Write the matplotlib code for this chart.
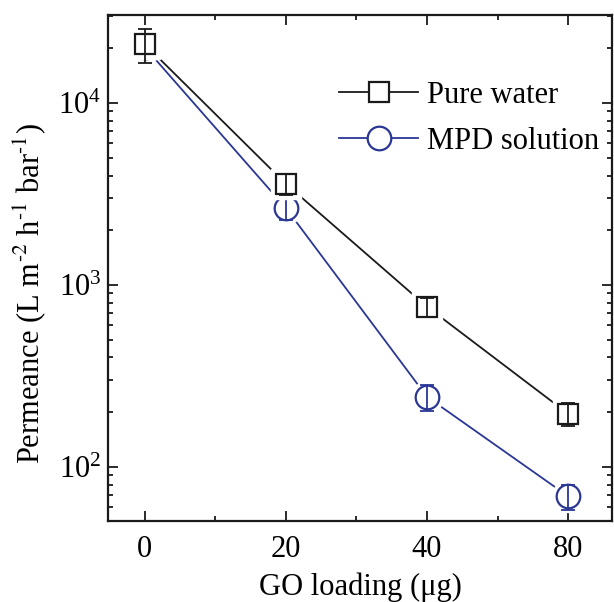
# GO loading vs permeance, log scale
# ==========================================================

import numpy as np
import matplotlib.pyplot as plt
from matplotlib.lines import Line2D
from matplotlib.ticker import MultipleLocator, LogLocator, NullFormatter

# ==========================================================
# DATA
# ==========================================================

go_loading = ["0", "20", "40", "80"]

pure_water = [21100, 3600, 760, 196]
pure_water_err = [4500, 480, 90, 28]

mpd_solution = [20300, 2650, 243, 69]
mpd_solution_err = [1500, 380, 40, 11]

# ==========================================================
# STYLE
# ==========================================================

plt.rcParams["font.family"] = ["Liberation Serif", "DejaVu Serif"]
plt.rcParams["mathtext.fontset"] = "stix"
plt.rcParams["font.size"] = 22

BLACK = "#1a1a1a"
BLUE = "#2a3795"

fig = plt.figure(figsize=(6.14, 6.02), dpi=100)
ax = fig.add_axes([108 / 614, 81 / 602, 504 / 614, 506 / 602])

x = np.arange(len(go_loading))

# ==========================================================
# SERIES
# ==========================================================

def draw_series(y, yerr, color, marker, ms, z):
    ax.plot(x, y, color=color, linewidth=1.3, zorder=z)
    # white halo gives the gap between line and marker
    ax.plot(x, y, linestyle="none", marker=marker, markersize=ms + 6,
            markerfacecolor="white", markeredgecolor="white", zorder=z + 1)
    ax.plot(x, y, linestyle="none", marker=marker, markersize=ms,
            markerfacecolor="white", markeredgecolor=color,
            markeredgewidth=1.6, zorder=z + 2)
    ax.errorbar(x, y, yerr=yerr, fmt="none", ecolor=color,
                elinewidth=1.3, capsize=5, capthick=1.3, zorder=z + 3)


draw_series(mpd_solution, mpd_solution_err, BLUE, "o", 17, 1)
draw_series(pure_water, pure_water_err, BLACK, "s", 15, 5)

# ==========================================================
# AXES
# ==========================================================

ax.set_yscale("log")
ax.set_ylim(50.5, 30500)
ax.set_xlim(-0.26, 3.31)

ax.set_xticks(x)
ax.set_xticklabels(go_loading)
ax.xaxis.set_minor_locator(MultipleLocator(0.5))
ax.yaxis.set_major_locator(LogLocator(base=10, numticks=10))
ax.yaxis.set_minor_locator(LogLocator(base=10, subs=np.arange(2, 10), numticks=10))
ax.yaxis.set_minor_formatter(NullFormatter())

ax.tick_params(which="both", direction="in", top=True, right=True,
               width=1.3, color=BLACK)
ax.tick_params(which="major", length=7)
ax.tick_params(which="minor", length=3.5)
ax.tick_params(axis="x", which="major", pad=10)
ax.tick_params(axis="y", which="major", pad=5)

for spine in ax.spines.values():
    spine.set_linewidth(1.6)
    spine.set_color(BLACK)

ax.set_xlabel("GO loading (μg)", labelpad=6)
ax.set_ylabel(r"Permeance (L m$^{\text{-2}}$ h$^{\text{-1}}$ bar$^{\text{-1}}$)")
ax.yaxis.set_label_coords(-0.119, 0.45)

# ==========================================================
# LEGEND
# ==========================================================

handles = [
    Line2D([], [], color=BLACK, linewidth=1.3, marker="s", markersize=15,
           markerfacecolor="white", markeredgecolor=BLACK, markeredgewidth=1.6),
    Line2D([], [], color=BLUE, linewidth=1.3, marker="o", markersize=17,
           markerfacecolor="white", markeredgecolor=BLUE, markeredgewidth=1.6),
]

ax.legend(handles, ["Pure water", "MPD solution"], frameon=False,
          loc="upper left", bbox_to_anchor=(0.434, 0.894),
          handlelength=2.6, handletextpad=0.28, labelspacing=0.55,
          borderaxespad=0, numpoints=1)

plt.savefig("out.png", dpi=100)
